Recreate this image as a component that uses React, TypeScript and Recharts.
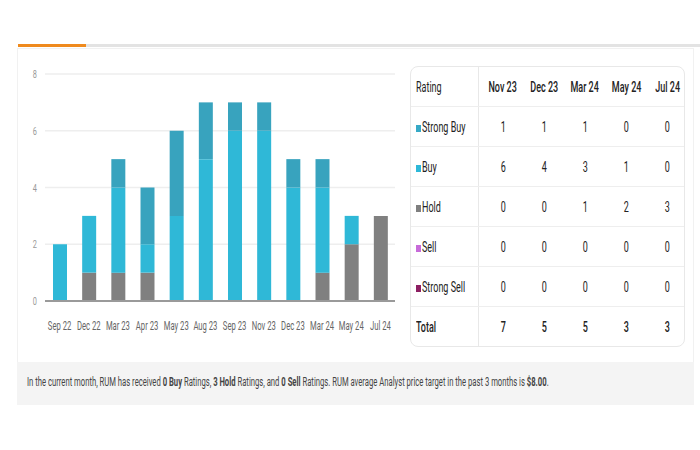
import React from "react";
import { BarChart, Bar, XAxis, YAxis, CartesianGrid } from "recharts";

// bar chart: rating counts per month
const months = ["Sep 22", "Dec 22", "Mar 23", "Apr 23", "May 23", "Aug 23", "Sep 23", "Nov 23", "Dec 23", "Mar 24", "May 24", "Jul 24"];
const holdCounts = [0, 1, 1, 1, 0, 0, 0, 0, 0, 1, 2, 3];
const buyCounts = [2, 2, 3, 1, 3, 5, 6, 6, 4, 3, 1, 0];
const strongBuyCounts = [0, 0, 1, 2, 3, 2, 1, 1, 1, 1, 0, 0];
const yTicks = [0, 2, 4, 6, 8];

// table on the right
const tableMonths = ["Nov 23", "Dec 23", "Mar 24", "May 24", "Jul 24"];
const ratingNames = ["Strong Buy", "Buy", "Hold", "Sell", "Strong Sell"];
const ratingColors = ["#36a9c6", "#2db8d8", "#7f7f7f", "#c76bd9", "#8c1f62"];
const tableValues = [
  [1, 1, 1, 0, 0],
  [6, 4, 3, 1, 0],
  [0, 0, 1, 2, 3],
  [0, 0, 0, 0, 0],
  [0, 0, 0, 0, 0],
];
const tableTotals = [7, 5, 5, 3, 3];

const chartData = months.map((m, i) => ({
  month: m,
  hold: holdCounts[i],
  buy: buyCounts[i],
  strongBuy: strongBuyCounts[i],
}));

const font = "Roboto, 'Liberation Sans', sans-serif";
const SQUEEZE = 0.6; // the source text is a condensed face

// squeezed text for html
const N = ({ children, origin = "center" }: { children: React.ReactNode; origin?: string }) => (
  <span
    style={{
      display: "inline-block",
      transform: `scaleX(${SQUEEZE})`,
      transformOrigin: origin,
      whiteSpace: "nowrap",
      margin: origin === "center" ? "0 -30px" : 0,
    }}
  >
    {children}
  </span>
);

// squeezed tick for svg axes
const XTick = (props: any) => {
  const { x, y, payload } = props;
  return (
    <g transform={`translate(${x},${y})`}>
      <text transform="scale(0.64,1)" textAnchor="middle" dy="0.71em" fill="#666" fontSize={12} fontFamily={font}>
        {payload.value}
      </text>
    </g>
  );
};

const YTick = (props: any) => {
  const { x, y, payload } = props;
  return (
    <g transform={`translate(${x},${y})`}>
      <text transform="scale(0.64,1)" textAnchor="end" dy="0.35em" fill="#999" fontSize={11.5} fontFamily={font}>
        {payload.value}
      </text>
    </g>
  );
};

const cell: React.CSSProperties = {
  textAlign: "center",
  borderBottom: "1px solid #eeeeee",
  height: 39,
  padding: 0,
  paddingLeft: 8,
};

const labelCell: React.CSSProperties = {
  ...cell,
  textAlign: "left",
  paddingLeft: 5,
  borderRight: "1px solid #e8e8e8",
  whiteSpace: "nowrap",
};

export default function App() {
  return (
    <div style={{ position: "absolute", left: 0, top: 0, width: 700, height: 450, background: "#fff", fontFamily: font, overflow: "hidden" }}>
      {/* tab strip */}
      <div style={{ position: "absolute", left: 18, top: 44, width: 68, height: 3, background: "#ef8a1d" }} />
      <div style={{ position: "absolute", left: 86, top: 44, width: 614, height: 3, background: "#e3e3e3" }} />

      {/* card */}
      <div style={{ position: "absolute", left: 17, top: 48, width: 677, height: 357, border: "1px solid #f1f1f1", boxSizing: "border-box" }} />

      <div style={{ position: "absolute", left: 17, top: 60 }}>
        <BarChart width={380} height={281} data={chartData} margin={{ top: 14, right: 2, bottom: 0, left: 0 }} barSize={14}>
          <CartesianGrid vertical={false} stroke="#eeeeee" strokeWidth={1.5} />
          <XAxis
            dataKey="month"
            interval={0}
            tickLine={false}
            axisLine={{ stroke: "#9a9a9a", strokeWidth: 2 }}
            tickMargin={14}
            height={40}
            tick={<XTick />}
          />
          <YAxis
            width={28}
            domain={[0, 8]}
            ticks={yTicks}
            axisLine={false}
            tickLine={false}
            tick={<YTick />}
          />
          <Bar dataKey="hold" stackId="a" fill="#808080" isAnimationActive={false} />
          <Bar dataKey="buy" stackId="a" fill="#2fb8d7" isAnimationActive={false} />
          <Bar dataKey="strongBuy" stackId="a" fill="#38a3be" isAnimationActive={false} />
        </BarChart>
      </div>

      {/* ratings table */}
      <div style={{ position: "absolute", left: 410, top: 66, width: 275, border: "1px solid #e8e8e8", borderRadius: 8, overflow: "hidden", boxSizing: "border-box" }}>
        <table style={{ borderCollapse: "collapse", width: "100%", tableLayout: "fixed", fontSize: 15, color: "#222", fontFamily: font }}>
          <colgroup>
            <col style={{ width: 67 }} />
            {tableMonths.map((m) => (
              <col key={m} />
            ))}
          </colgroup>
          <tbody>
            <tr>
              <td style={labelCell}><N origin="left">Rating</N></td>
              {tableMonths.map((m) => (
                <td key={m} style={{ ...cell, fontWeight: 500 }}><N>{m}</N></td>
              ))}
            </tr>
            {ratingNames.map((name, r) => (
              <tr key={name}>
                <td style={labelCell}>
                  <span style={{ display: "inline-block", width: 5, height: 7, background: ratingColors[r], marginRight: 1 }} />
                  <N origin="left">{name}</N>
                </td>
                {tableValues[r].map((v, c) => (
                  <td key={c} style={cell}><N>{v}</N></td>
                ))}
              </tr>
            ))}
            <tr>
              <td style={{ ...labelCell, borderBottom: "none", fontWeight: 500 }}><N origin="left">Total</N></td>
              {tableTotals.map((v, c) => (
                <td key={c} style={{ ...cell, borderBottom: "none", fontWeight: 500 }}><N>{v}</N></td>
              ))}
            </tr>
          </tbody>
        </table>
      </div>

      {/* footer note */}
      <div style={{ position: "absolute", left: 17, top: 362, width: 677, height: 43, background: "#f4f4f4", boxSizing: "border-box", paddingLeft: 10, lineHeight: "40px", fontSize: 12.5, color: "#444", whiteSpace: "nowrap", overflow: "hidden" }}>
        <span style={{ display: "inline-block", transform: "scaleX(0.614)", transformOrigin: "left" }}>
          In the current month, RUM has received <b>0 Buy</b> Ratings, <b>3 Hold</b> Ratings, and <b>0 Sell</b> Ratings. RUM average Analyst price target in the past 3 months is <b>$8.00</b>.
        </span>
      </div>
    </div>
  );
}
